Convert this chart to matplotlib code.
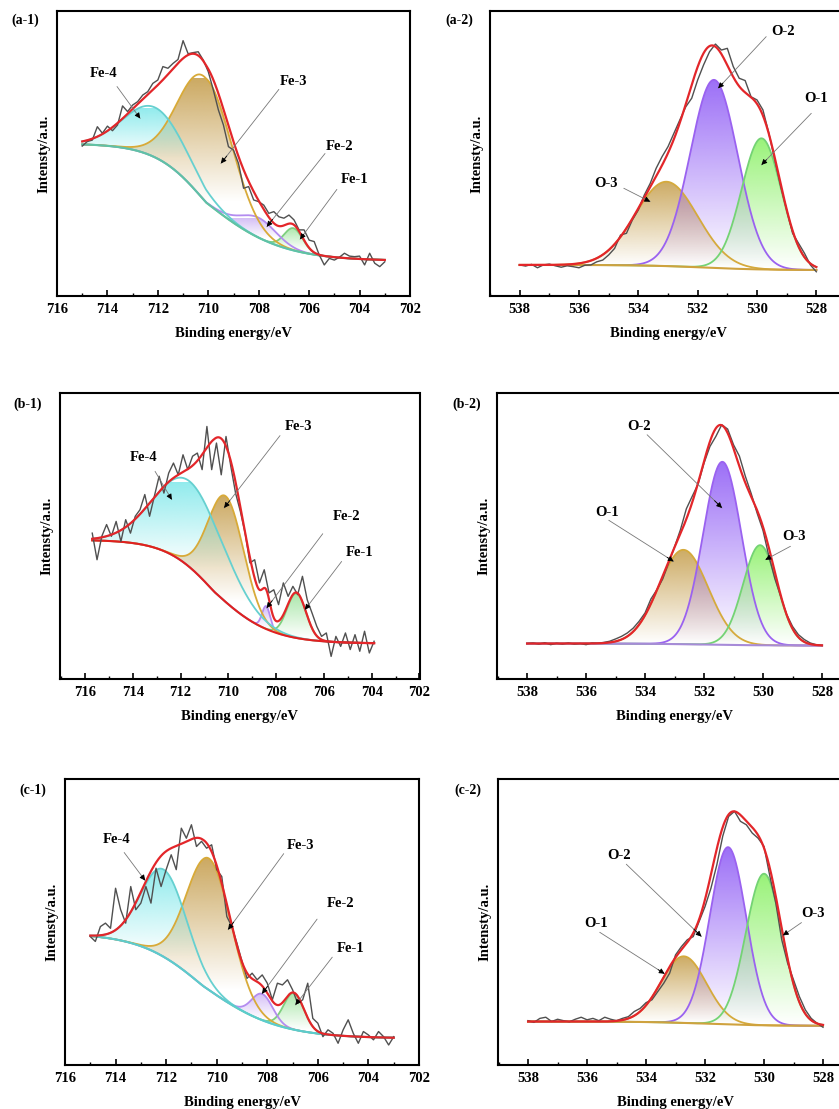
import numpy as np
import matplotlib
matplotlib.use("Agg")
import matplotlib.pyplot as plt
from matplotlib.colors import to_rgb
from matplotlib.ticker import MultipleLocator

plt.rcParams["font.family"] = "Liberation Serif"
plt.rcParams["font.weight"] = "bold"

W, H = 839, 1109

# ---- Fe 2p spectra: raw counts (a.u.) sampled every 0.2 eV ----
A1_RANGE = (715.0, 703.0)
A1_RAW = [52.6, 54.2, 54.7, 59.4, 57.1, 59.6, 58.0, 60.0, 66.7, 64.7, 67.0,
          68.2, 70.5, 71.7, 74.6, 75.8, 80.5, 79.9, 81.6, 83.0, 89.6, 85.0,
          85.4, 85.7, 82.8, 78.7, 72.3, 65.3, 60.0, 52.4, 51.2, 46.5, 37.8,
          38.4, 33.7, 33.1, 31.9, 29.0, 29.6, 27.8, 27.3, 28.4, 26.7, 23.2,
          23.2, 19.6, 19.1, 14.4, 10.9, 13.2, 12.6, 13.6, 15.0, 14.0, 13.8,
          14.0, 10.9, 15.0, 11.5, 10.3, 12.0]
B1_RANGE = (715.7, 703.9)
B1_RAW = [51.0, 41.7, 49.9, 54.0, 49.9, 55.1, 48.1, 55.7, 51.0, 56.9, 59.2,
          64.5, 56.9, 63.9, 70.9, 65.0, 72.0, 75.5, 71.4, 78.4, 73.2, 77.9,
          79.0, 73.2, 88.3, 73.2, 82.5, 71.4, 84.8, 74.4, 65.0, 58.6, 51.0,
          40.6, 41.7, 33.6, 38.2, 30.1, 31.2, 26.0, 33.6, 28.9, 32.4, 29.5,
          35.9, 27.7, 23.1, 18.4, 14.9, 16.1, 7.9, 14.9, 11.4, 16.1, 10.3,
          15.5, 9.7, 16.7, 9.1, 13.2]
C1_RANGE = (715.0, 703.0)
C1_RAW = [44.9, 43.2, 48.4, 49.6, 47.8, 61.8, 54.3, 49.6, 62.4, 54.3, 56.6,
          62.4, 56.6, 68.8, 62.4, 68.3, 73.5, 68.3, 82.8, 79.3, 84.0, 76.4,
          78.2, 75.8, 77.0, 68.3, 65.9, 51.9, 48.4, 42.6, 36.2, 30.3, 32.1,
          29.8, 31.5, 28.6, 22.8, 28.6, 28.0, 29.8, 26.3, 21.6, 22.8, 28.6,
          16.3, 14.6, 9.9, 12.3, 11.1, 7.6, 12.3, 15.8, 11.1, 7.6, 11.7,
          10.5, 8.8, 11.7, 9.9, 7.0, 9.9]

# ---- O 1s spectra ----
A2_RANGE = (538.0, 528.0)
A2_RAW = [10.9, 10.5, 11.1, 9.9, 10.9, 11.2, 10.6, 10.1, 10.6, 10.3, 9.9,
          10.8, 10.9, 12.0, 12.6, 14.4, 16.7, 21.4, 22.0, 26.7, 30.2, 35.4,
          39.5, 44.8, 48.9, 52.4, 57.1, 61.8, 66.4, 69.4, 75.8, 81.1, 85.7,
          88.4, 86.3, 86.9, 80.5, 76.4, 75.6, 69.9, 68.8, 65.3, 57.1, 47.7,
          38.4, 30.2, 22.0, 18.5, 15.0, 10.9, 8.5]
B2_RANGE = (538.0, 528.0)
B2_RAW = [12.4, 12.6, 12.2, 12.7, 12.0, 12.5, 12.2, 12.6, 12.2, 12.4, 12.0,
          12.6, 12.5, 12.8, 13.2, 14.0, 14.9, 16.1, 17.8, 20.2, 23.1, 28.0,
          31.2, 35.0, 40.6, 46.2, 52.2, 59.5, 63.9, 68.2, 75.5, 81.3, 84.8,
          88.9, 87.4, 81.9, 77.9, 70.9, 64.8, 58.0, 51.9, 42.9, 35.1, 28.9,
          22.6, 18.4, 15.5, 13.8, 12.6, 12.0, 11.7]
C2_RANGE = (538.0, 528.0)
C2_RAW = [15.5, 14.9, 16.3, 16.7, 15.2, 16.0, 15.5, 15.1, 16.0, 16.7, 15.8,
          16.3, 15.5, 16.7, 16.0, 15.5, 16.3, 16.9, 18.7, 19.8, 21.8, 22.8,
          25.7, 28.6, 32.1, 38.5, 41.4, 43.8, 44.9, 50.2, 55.4, 61.8, 70.0,
          80.0, 86.9, 88.7, 85.2, 84.0, 81.1, 79.3, 76.4, 65.9, 56.6, 43.8,
          35.6, 29.8, 23.9, 19.3, 16.3, 14.6, 13.2]

# ---- fitted components: Fe-1, Fe-2, Fe-3, Fe-4 ----
A1_CENTERS = [706.62, 708.0, 710.1, 712.1]
A1_HEIGHTS = [7.8, 7.0, 43.5, 17.5]
A1_SIGMAS = [0.37, 0.72, 1.05, 1.22]
A1_BG = (12.3, 53.5, 710.1, 1.5, 1.0)  # low, high, midpoint, width below / above

B1_CENTERS = [707.15, 708.42, 710.1, 711.6]
B1_HEIGHTS = [15.6, 8.0, 37.0, 30.0]
B1_SIGMAS = [0.4, 0.17, 0.75, 1.45]
B1_BG = (12.4, 48.7, 710.6, 1.2, 1.0)

C1_CENTERS = [706.95, 708.2, 710.3, 712.1]
C1_HEIGHTS = [12.8, 9.2, 46.0, 30.5]
C1_SIGMAS = [0.4, 0.42, 0.88, 0.9]
C1_BG = (9.3, 46.1, 710.55, 1.5, 1.25)

# ---- fitted components: gold, purple, green ----
A2_CENTERS = [533.05, 531.45, 529.85]
A2_HEIGHTS = [29.6, 66.0, 46.0]
A2_SIGMAS = [1.05, 0.8, 0.67]
A2_BG = (9.1, 10.9, 531.8, 1.0, 1.0)

B2_CENTERS = [532.7, 531.38, 530.1]
B2_HEIGHTS = [33.0, 64.0, 35.0]
B2_SIGMAS = [0.84, 0.65, 0.58]
B2_BG = (11.7, 12.4, 532.0, 1.0, 1.0)

C2_CENTERS = [532.72, 531.22, 530.0]
C2_HEIGHTS = [23.3, 62.0, 53.0]
C2_SIGMAS = [0.77, 0.62, 0.62]
C2_BG = (13.7, 15.2, 532.0, 1.0, 1.0)

FE_LINES = ["#7fcf7f", "#b38cf0", "#d8aa38", "#66d0d0"]
FE_FILLS = ["#9be39b", "#cdb4f5", "#c39a46", "#7ee8ea"]
O_LINES = ["#d5aa3c", "#9a62f0", "#74d374"]
O_FILLS = ["#c49c48", "#8a55f5", "#86f060"]

# peak labels: text, text position, leader start, arrow tip
A1_LABELS = [("Fe-4", (714.15, 78.1), (713.62, 73.5), (712.7, 62.3)),
             ("Fe-3", (706.62, 75.2), (707.2, 72.5), (709.5, 46.5)),
             ("Fe-2", (704.8, 52.4), (705.37, 50.0), (707.68, 24.3)),
             ("Fe-1", (704.18, 41.0), (704.9, 37.4), (706.36, 19.9))]
B1_LABELS = [("Fe-4", (713.56, 77.3), (713.07, 72.6), (712.37, 62.7)),
             ("Fe-3", (707.07, 88.3), (707.84, 85.1), (710.18, 59.8)),
             ("Fe-2", (705.05, 56.9), (706.05, 50.8), (708.4, 24.8)),
             ("Fe-1", (704.49, 44.3), (705.26, 41.1), (706.8, 24.2))]
C1_LABELS = [("Fe-4", (713.95, 78.8), (713.66, 74.3), (712.83, 64.5)),
             ("Fe-3", (706.69, 76.7), (707.35, 73.9), (709.55, 47.3)),
             ("Fe-2", (705.1, 56.6), (706.03, 51.0), (708.21, 24.9)),
             ("Fe-1", (704.71, 40.8), (705.43, 37.7), (706.89, 21.0))]
A2_LABELS = [("O-2", (529.12, 92.7), (529.69, 91.0), (531.31, 72.9)),
             ("O-1", (528.0, 69.4), (528.17, 64.1), (529.85, 46.0)),
             ("O-3", (535.08, 39.5), (534.49, 37.8), (533.6, 33.1))]
B2_LABELS = [("O-2", (534.21, 88.3), (533.93, 85.4), (531.39, 59.8)),
             ("O-1", (535.29, 58.3), (535.23, 55.5), (533.03, 41.1)),
             ("O-3", (528.96, 49.7), (529.07, 46.4), (529.92, 41.7))]
C2_LABELS = [("O-2", (534.92, 73.2), (534.67, 70.2), (532.12, 44.9)),
             ("O-1", (535.68, 49.4), (535.57, 46.4), (533.37, 31.9)),
             ("O-3", (528.34, 53.1), (528.73, 49.8), (529.36, 45.3))]


def gauss(e, c, h, s):
    return h * np.exp(-0.5 * ((e - c) / s) ** 2)


def step_background(e, lo, hi, mid, w_lo, w_hi):
    w = np.where(e >= mid, w_hi, w_lo)
    return lo + (hi - lo) / (1 + np.exp(-(e - mid) / w))


def gradient_fill(ax, e, lower, upper, color, z):
    poly = ax.fill_between(e, lower, upper, facecolor="none",
                           edgecolor="none", zorder=z)
    i = np.argmax(upper - lower)
    rgba = np.zeros((200, 1, 4))
    rgba[:, 0, :3] = to_rgb(color)
    rgba[:, 0, 3] = np.linspace(0.85, 0.0, 200)
    im = ax.imshow(rgba, extent=[e.min(), e.max(), lower[i], upper[i]],
                   aspect="auto", origin="upper", interpolation="bilinear",
                   zorder=z)
    im.set_clip_path(poly.get_paths()[0], transform=ax.transData)


def label_peak(ax, text, txy, start, tip):
    ax.text(*txy, text, ha="center", va="center", fontsize=10.5,
            fontweight="bold", zorder=7)
    ax.annotate("", xy=tip, xytext=start, zorder=7,
                arrowprops=dict(arrowstyle="-", color="#777777", lw=0.6,
                                shrinkA=0, shrinkB=0))
    head = (tip[0] + 0.1 * (start[0] - tip[0]),
            tip[1] + 0.1 * (start[1] - tip[1]))
    ax.annotate("", xy=tip, xytext=head, zorder=7,
                arrowprops=dict(arrowstyle="-|>", color="k", lw=0.6,
                                mutation_scale=8, shrinkA=0, shrinkB=0))


def draw_panel(rect, xlim, erange, raw, bg, centers, heights, sigmas,
               lines, fills, bg_color, labels, tag, tag_xy):
    l, t, r, b = rect
    ax = fig.add_axes([l / W, 1 - b / H, (r - l) / W, (b - t) / H])
    e = np.linspace(erange[0], erange[1], 800)
    base = step_background(e, *bg)
    comps = [gauss(e, c, h, s) for c, h, s in zip(centers, heights, sigmas)]

    for k, g in enumerate(comps):
        gradient_fill(ax, e, base, base + g, fills[k], 1 + k * 0.1)
    for k, g in enumerate(comps):
        ax.plot(e, base + g, color=lines[k], lw=1.3, zorder=3)
    ax.plot(e, base, color=bg_color, lw=1.5, zorder=3.5)

    raw_e = np.linspace(erange[0], erange[1], len(raw))
    ax.plot(raw_e, raw, color="#505050", lw=1.0, zorder=4)
    ax.plot(e, base + np.sum(comps, axis=0), color="#e3262a", lw=1.6,
            zorder=5)

    for lab in labels:
        label_peak(ax, *lab)

    ax.set_xlim(*xlim)
    ax.set_ylim(0, 100)
    ax.set_yticks([])
    ax.xaxis.set_major_locator(MultipleLocator(2))
    ax.xaxis.set_minor_locator(MultipleLocator(1))
    ax.tick_params(axis="x", which="major", direction="in", length=4,
                   width=1.2, pad=5, labelsize=10.5)
    ax.tick_params(axis="x", which="minor", direction="in", length=2.5,
                   width=1.0)
    for s in ax.spines.values():
        s.set_linewidth(1.5)
    ax.set_xlabel("Binding energy/eV", fontsize=10.5, fontweight="bold",
                  labelpad=8)
    ax.set_ylabel("Intensty/a.u.", fontsize=10.5, fontweight="bold",
                  labelpad=5)
    fig.text(tag_xy[0] / W, 1 - tag_xy[1] / H, tag, ha="center",
             va="center", fontsize=10, fontweight="bold")
    return ax


fig = plt.figure(figsize=(W / 100, H / 100), dpi=100)

draw_panel((57, 11, 410, 296), (716, 702), A1_RANGE, A1_RAW, A1_BG,
           A1_CENTERS, A1_HEIGHTS, A1_SIGMAS, FE_LINES, FE_FILLS,
           "#5fc2a6", A1_LABELS, "(a-1)", (25, 20))
draw_panel((490, 11, 846, 296), (539, 527), A2_RANGE, A2_RAW, A2_BG,
           A2_CENTERS, A2_HEIGHTS, A2_SIGMAS, O_LINES, O_FILLS,
           "#cfa23e", A2_LABELS, "(a-2)", (459, 20))
draw_panel((60, 393, 419.5, 679), (717.05, 702), B1_RANGE, B1_RAW, B1_BG,
           B1_CENTERS, B1_HEIGHTS, B1_SIGMAS, FE_LINES, FE_FILLS,
           "#e02020", B1_LABELS, "(b-1)", (28, 404))
draw_panel((497, 393, 851.5, 679), (539.02, 527), B2_RANGE, B2_RAW, B2_BG,
           B2_CENTERS, B2_HEIGHTS, B2_SIGMAS, O_LINES, O_FILLS,
           "#a78bd8", B2_LABELS, "(b-2)", (467, 404))
draw_panel((65, 779, 419, 1065), (716, 702), C1_RANGE, C1_RAW, C1_BG,
           C1_CENTERS, C1_HEIGHTS, C1_SIGMAS, FE_LINES, FE_FILLS,
           "#5ccccc", C1_LABELS, "(c-1)", (33, 790))
draw_panel((498, 779, 852.5, 1065), (539.02, 527), C2_RANGE, C2_RAW, C2_BG,
           C2_CENTERS, C2_HEIGHTS, C2_SIGMAS, O_LINES, O_FILLS,
           "#cfa23e", C2_LABELS, "(c-2)", (468, 790))

fig.savefig("out.png", dpi=100)
